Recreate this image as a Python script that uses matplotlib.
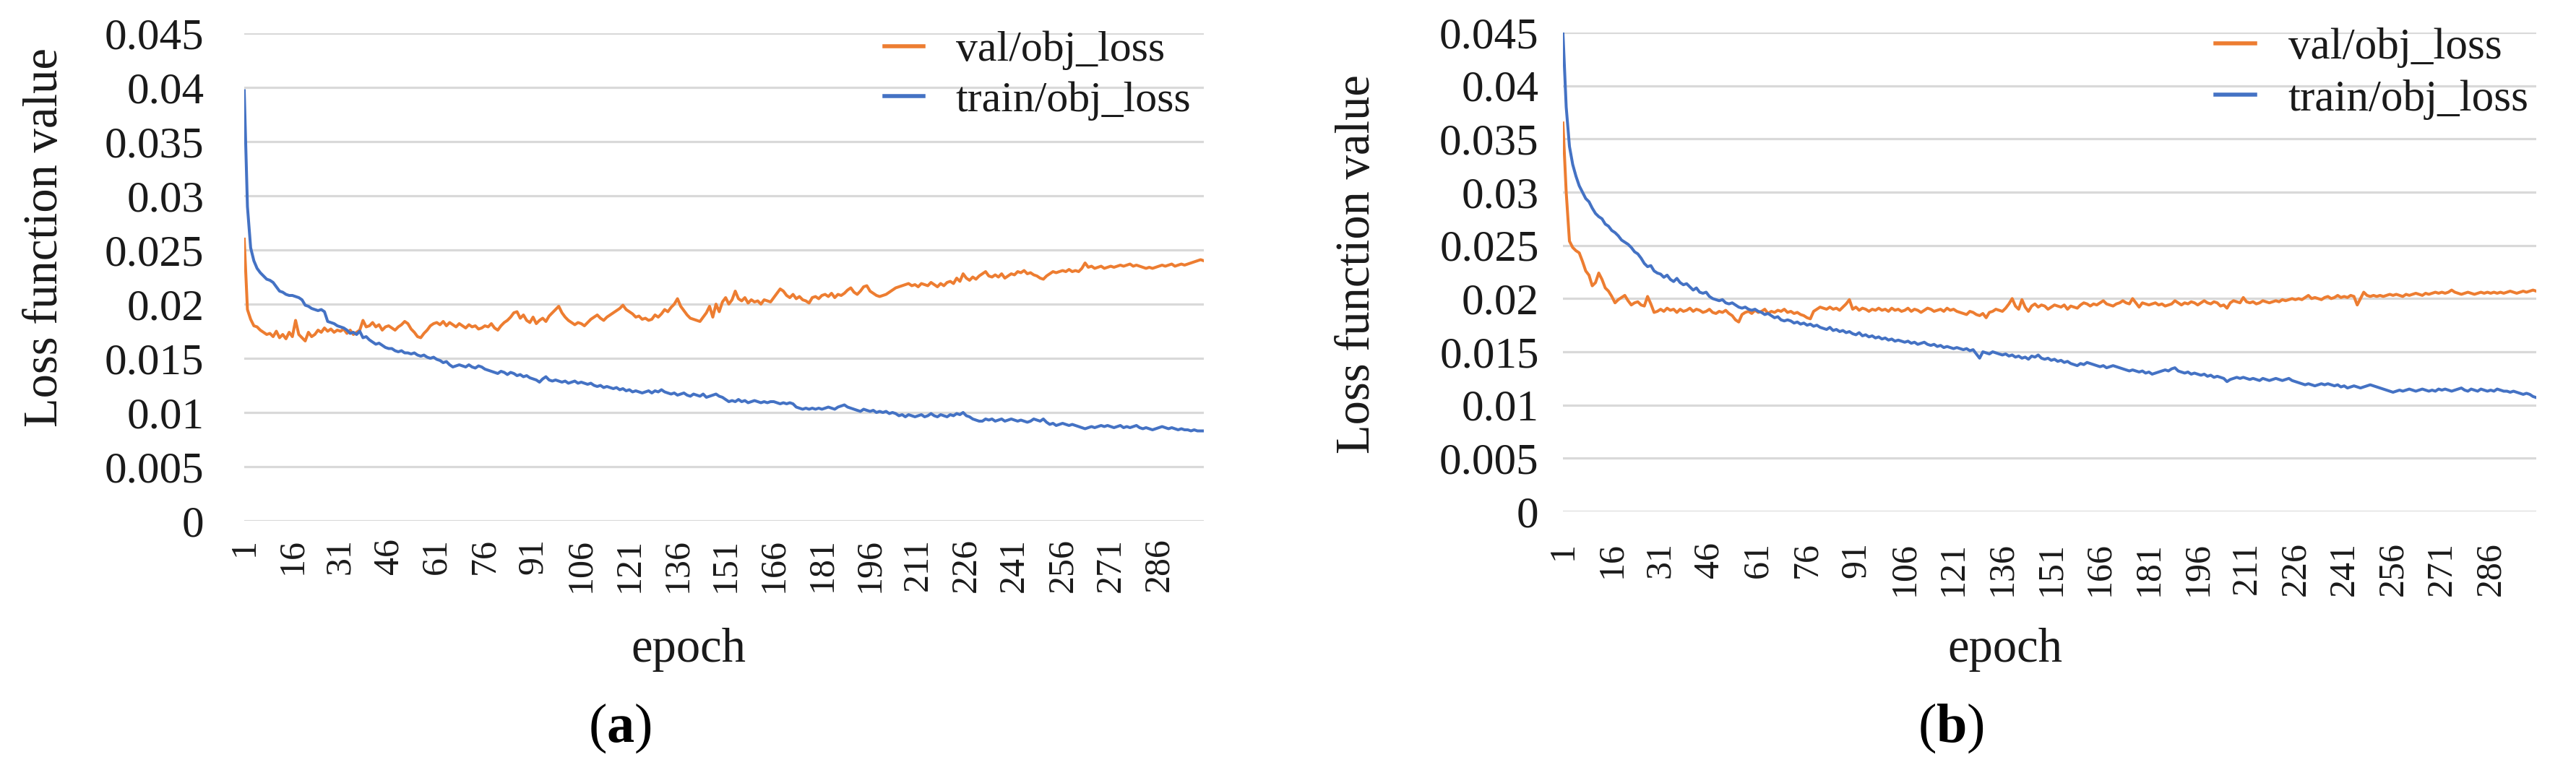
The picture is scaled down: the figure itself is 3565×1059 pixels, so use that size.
import matplotlib
matplotlib.use("Agg")
import matplotlib.pyplot as plt
import numpy as np

plt.rcParams['font.family'] = ['Liberation Serif', 'DejaVu Serif']
plt.rcParams['mathtext.fontset'] = 'custom'
plt.rcParams['mathtext.rm'] = 'Liberation Serif'
plt.rcParams['mathtext.bf'] = 'Liberation Serif:bold'

# ---------------- data (values in units of 1e-5) ----------------
epochs = list(range(1, 301))
tick_labels = [str(e) for e in range(1, 300, 15)]

a_val = [
    2600, 1950, 1860, 1800, 1790, 1760, 1740, 1720, 1730, 1700, 1750, 1690, 1720, 1680, 1740,
    1700, 1850, 1720, 1690, 1660, 1740, 1700, 1720, 1760, 1740, 1780, 1750, 1770, 1740, 1760,
    1750, 1770, 1730, 1760, 1720, 1740, 1760, 1850, 1790, 1800, 1830, 1790, 1810, 1760, 1790,
    1800, 1780, 1760, 1790, 1810, 1840, 1820, 1770, 1740, 1700, 1690, 1730, 1760, 1800, 1820,
    1830, 1810, 1840, 1800, 1830, 1810, 1790, 1820, 1800, 1780, 1810, 1790, 1800, 1770, 1780,
    1800, 1790, 1820, 1780, 1760, 1800, 1830, 1850, 1880, 1920, 1930, 1870, 1900, 1850, 1830,
    1880, 1820, 1850, 1870, 1840, 1890, 1920, 1950, 1980, 1920, 1880, 1850, 1830, 1810, 1830,
    1820, 1800, 1830, 1860, 1880, 1900, 1870, 1850, 1880, 1900, 1920, 1940, 1960, 1990, 1950,
    1930, 1910, 1880, 1890, 1860, 1870, 1850, 1860, 1900, 1880, 1910, 1950, 1930, 1970, 2000,
    2050, 1980, 1940, 1900, 1870, 1860, 1850, 1840, 1880, 1920, 1980, 1880, 2000, 1930, 2020,
    2060, 2000, 2040, 2120, 2050, 2030, 2060, 2010, 2040, 2020, 2030, 2000, 2040, 2030, 2020,
    2060, 2100, 2140, 2120, 2080, 2060, 2090, 2050, 2070, 2040, 2030, 2010, 2060, 2070, 2050,
    2080, 2090, 2070, 2100, 2060, 2090, 2080, 2100, 2130, 2150, 2110, 2090, 2120, 2160, 2170,
    2120, 2100, 2080, 2070, 2080, 2090, 2110, 2130, 2150, 2160, 2170, 2180, 2190, 2170, 2180,
    2160, 2190, 2180, 2170, 2200, 2180, 2160, 2190, 2170, 2200, 2210, 2190, 2240, 2210, 2280,
    2240, 2220, 2250, 2230, 2260, 2280, 2300, 2260, 2250, 2270, 2250, 2280, 2240, 2260, 2280,
    2270, 2300, 2290, 2310, 2280, 2290, 2270, 2260, 2240, 2230, 2260, 2280, 2300, 2290, 2300,
    2310, 2300, 2320, 2300, 2310, 2300, 2330, 2380, 2340, 2350, 2330, 2340, 2350, 2330, 2340,
    2350, 2340, 2350, 2360, 2350, 2360, 2370, 2350, 2360, 2350, 2340, 2330, 2340, 2330, 2340,
    2350, 2360, 2350, 2360, 2370, 2350, 2360, 2370, 2360, 2370, 2380, 2390, 2400, 2410, 2400,
]

a_train = [
    3970, 2900, 2520, 2400, 2330, 2290, 2260, 2230, 2220, 2200, 2160, 2120, 2110, 2090, 2080,
    2080, 2070, 2060, 2040, 1990, 1980, 1960, 1950, 1940, 1950, 1930, 1840, 1830, 1820, 1800,
    1790, 1780, 1760, 1730, 1740, 1720, 1750, 1690, 1700, 1670, 1650, 1630, 1640, 1620, 1600,
    1590, 1590, 1570, 1560, 1570, 1550, 1550, 1540, 1550, 1530, 1520, 1530, 1510, 1500, 1510,
    1490, 1480, 1460, 1470, 1440, 1420, 1430, 1440, 1430, 1420, 1440, 1420, 1410, 1430, 1420,
    1400, 1390, 1380, 1370, 1360, 1380, 1370, 1350, 1370, 1360, 1340, 1350, 1330, 1340, 1320,
    1310, 1300, 1280, 1310, 1330, 1300, 1290, 1300, 1290, 1280, 1290, 1270, 1280, 1290, 1270,
    1280, 1270, 1260, 1270, 1250, 1240, 1250, 1230, 1240, 1230, 1220, 1230, 1210, 1220, 1200,
    1210, 1190, 1200, 1190, 1180, 1190, 1200, 1180, 1200, 1190, 1210, 1190, 1180, 1170, 1180,
    1160, 1170, 1180, 1160, 1150, 1170, 1160, 1150, 1170, 1140, 1150, 1160, 1170, 1150, 1140,
    1120, 1100, 1110, 1100, 1120, 1100, 1110, 1090, 1100, 1110, 1100, 1090, 1100, 1090, 1100,
    1100, 1090, 1080, 1090, 1080, 1090, 1080, 1050, 1040, 1030, 1040, 1030, 1040, 1030, 1040,
    1030, 1040, 1050, 1040, 1030, 1050, 1060, 1070, 1050, 1040, 1030, 1020, 1010, 1030, 1020,
    1010, 1020, 1000, 1010, 1000, 1010, 990, 1000, 990, 970, 980, 960, 980, 970, 960,
    970, 980, 960, 970, 990, 970, 960, 980, 970, 960, 980, 970, 990, 980, 1000,
    970, 960, 940, 930, 920, 920, 940, 930, 940, 920, 930, 940, 920, 930, 940,
    930, 920, 930, 920, 910, 920, 940, 930, 920, 940, 910, 890, 900, 880, 890,
    900, 890, 880, 890, 880, 870, 860, 850, 860, 870, 860, 870, 880, 870, 880,
    870, 860, 870, 880, 860, 870, 860, 870, 880, 860, 850, 860, 850, 840, 850,
    860, 870, 860, 850, 860, 850, 840, 850, 840, 840, 830, 840, 830, 830, 830,
]

b_val = [
    3650, 3000, 2540, 2480, 2450, 2430, 2350, 2260, 2220, 2120, 2150, 2240, 2180, 2100, 2070,
    2020, 1960, 1990, 2010, 2030, 1980, 1940, 1960, 1970, 1940, 1930, 2020, 1950, 1870, 1880,
    1900, 1880, 1910, 1890, 1900, 1870, 1900, 1880, 1890, 1910, 1880, 1900, 1890, 1870, 1880,
    1900, 1870, 1860, 1880, 1870, 1890, 1860, 1840, 1800, 1780, 1850, 1870, 1880, 1860, 1890,
    1870, 1880, 1900, 1860, 1880, 1870, 1890, 1880, 1900, 1870, 1880, 1860, 1870, 1850, 1840,
    1820, 1810, 1880, 1900, 1920, 1910, 1900, 1920, 1900, 1910, 1890, 1920, 1950, 1990, 1900,
    1920, 1890, 1910, 1900, 1880, 1900, 1890, 1910, 1890, 1900, 1880, 1910, 1890, 1900, 1880,
    1890, 1910, 1880, 1900, 1890, 1870, 1890, 1910, 1900, 1880, 1890, 1900, 1880, 1910, 1890,
    1900, 1880, 1870, 1860, 1850, 1880, 1870, 1850, 1840, 1860, 1820, 1870, 1880, 1900, 1890,
    1880, 1910, 1950, 2000, 1930, 1900, 1990, 1920, 1880, 1930, 1950, 1920, 1940, 1930, 1900,
    1920, 1940, 1930, 1920, 1940, 1900, 1930, 1920, 1910, 1940, 1960, 1950, 1930, 1950, 1940,
    1960, 1980, 1950, 1940, 1930, 1950, 1960, 1980, 1960, 1950, 2000, 1960, 1920, 1960, 1950,
    1940, 1950, 1960, 1940, 1950, 1930, 1940, 1950, 1980, 1960, 1940, 1960, 1950, 1970, 1960,
    1940, 1960, 1980, 1960, 1950, 1970, 1960, 1930, 1940, 1910, 1960, 1980, 1970, 1960, 2010,
    1970, 1960, 1970, 1950, 1960, 1980, 1970, 1960, 1970, 1980, 1970, 1990, 1980, 1990, 2000,
    1990, 2000, 1990, 2010, 2030, 2000, 2010, 2000, 1990, 2010, 2020, 2000, 2010, 2030, 2010,
    2020, 2010, 2030, 2020, 1940, 2000, 2060, 2030, 2020, 2030, 2020, 2030, 2020, 2030, 2040,
    2030, 2040, 2030, 2020, 2040, 2030, 2040, 2050, 2040, 2030, 2050, 2040, 2050, 2060, 2050,
    2060, 2050, 2060, 2080, 2060, 2050, 2040, 2050, 2060, 2050, 2040, 2050, 2060, 2050, 2060,
    2050, 2060, 2050, 2060, 2050, 2060, 2070, 2060, 2050, 2060, 2070, 2060, 2070, 2080, 2070,
]

b_train = [
    4500, 3800, 3430, 3260, 3150, 3060, 3000, 2940, 2910, 2850, 2800, 2770, 2750, 2700, 2680,
    2640, 2620, 2590, 2550, 2530, 2510, 2480, 2440, 2420, 2380, 2330, 2300, 2310, 2260, 2240,
    2230, 2200, 2220, 2180, 2160, 2190, 2150, 2130, 2140, 2110, 2080, 2100, 2060, 2050, 2060,
    2020, 2000, 1990, 1980, 1990, 1960, 1950, 1960, 1940, 1920, 1910, 1920, 1900, 1890, 1900,
    1880, 1870, 1850, 1860, 1840, 1820, 1830, 1800, 1790, 1800, 1790, 1770, 1780, 1760, 1770,
    1750, 1760, 1740, 1750, 1730, 1720, 1710, 1730, 1700, 1710, 1690, 1700, 1680, 1690, 1670,
    1660, 1680, 1650, 1660, 1640, 1650, 1630, 1640, 1620, 1630, 1610, 1620, 1600, 1610, 1600,
    1590, 1600, 1580, 1590, 1570, 1580, 1590, 1570, 1560, 1570, 1550, 1560, 1540, 1550, 1540,
    1530, 1540, 1530, 1520, 1530, 1510, 1520, 1480, 1440, 1500, 1490, 1480, 1500, 1490, 1480,
    1470, 1480, 1460, 1470, 1450, 1460, 1440, 1450, 1430, 1460, 1450, 1470, 1440, 1430, 1440,
    1420, 1430, 1410, 1420, 1400, 1410, 1390, 1380, 1370, 1390, 1380, 1400, 1390, 1380, 1370,
    1360, 1370, 1350, 1360, 1370, 1360, 1350, 1340, 1330, 1320, 1330, 1320, 1310, 1320, 1300,
    1310, 1290, 1300, 1310, 1320, 1330, 1320, 1340, 1350, 1320, 1310, 1300, 1310, 1290, 1300,
    1290, 1280, 1290, 1270, 1280, 1260, 1270, 1260, 1250, 1220, 1240, 1250, 1260, 1250, 1260,
    1250, 1240, 1250, 1240, 1230, 1250, 1240, 1230, 1240, 1250, 1240, 1230, 1240, 1250, 1230,
    1220, 1210, 1200, 1190, 1200, 1190, 1180, 1190, 1200, 1190, 1200, 1190, 1180, 1190, 1170,
    1180, 1160, 1170, 1180, 1170, 1160, 1170, 1180, 1190, 1180, 1170, 1160, 1150, 1140, 1130,
    1120, 1130, 1140, 1130, 1140, 1150, 1140, 1130, 1140, 1150, 1140, 1130, 1140, 1130, 1150,
    1140, 1150, 1140, 1130, 1140, 1150, 1160, 1140, 1130, 1150, 1140, 1130, 1150, 1140, 1130,
    1140, 1130, 1150, 1140, 1130, 1130, 1120, 1130, 1120, 1110, 1100, 1110, 1100, 1080, 1070,
]

y_ticks = [0, 0.005, 0.01, 0.015, 0.02, 0.025, 0.03, 0.035, 0.04, 0.045]
y_tick_labels = ["0", "0.005", "0.01", "0.015", "0.02", "0.025", "0.03", "0.035", "0.04", "0.045"]

ORANGE = '#ED7D31'
BLUE = '#4472C4'
GRID = '#D9D9D9'
TXT = '#1a1a1a'

W, H = 3565, 1059
fig = plt.figure(figsize=(W / 100, H / 100), dpi=100)


def px_axes(x0, x1, ytop, ybot):
    return fig.add_axes([x0 / W, 1 - ybot / H, (x1 - x0) / W, (ybot - ytop) / H])


def panel(ax, val, train, ypad, xpad, legend_anchor, legend_fs):
    sc = 1e-5
    ax.plot(epochs, [v * sc for v in val], color=ORANGE, lw=2.9, label='val/obj_loss')
    ax.plot(epochs, [v * sc for v in train], color=BLUE, lw=2.9, label='train/obj_loss')
    ax.set_xlim(1, 300)
    ax.set_ylim(0, 0.045)
    ax.set_yticks(y_ticks)
    ax.set_yticklabels(y_tick_labels)
    ax.set_xticks([int(t) for t in tick_labels])
    ax.set_xticklabels(tick_labels, rotation=90)
    for s in ax.spines.values():
        s.set_visible(False)
    ax.yaxis.grid(True, color=GRID, lw=2.3)
    ax.set_axisbelow(True)
    ax.tick_params(axis='both', length=0, colors=TXT)
    ax.tick_params(axis='y', labelsize=44, pad=ypad)
    ax.tick_params(axis='x', labelsize=36, pad=xpad)
    leg = ax.legend(loc='upper left', bbox_to_anchor=legend_anchor, frameon=False,
                    fontsize=legend_fs, handlelength=0.9, handletextpad=0.75,
                    labelspacing=0.25, borderaxespad=0, borderpad=0)
    for line in leg.get_lines():
        line.set_linewidth(4)
    for t in leg.get_texts():
        t.set_color(TXT)


ax1 = px_axes(338, 1666, 46, 721)
panel(ax1, a_val, a_train, 40, 17, ((1224 - 338) / 1328, 1.005), 43)

ax2 = px_axes(2163, 3510, 45, 708)
panel(ax2, b_val, b_train, 24, 30, ((3066 - 2163) / 1347, 1.01), 44)

# axis titles
fig.text(63 / W, 1 - 329 / H, 'Loss function value', rotation=90, ha='center', va='center',
         fontsize=48, color=TXT)
fig.text(1878 / W, 1 - 366 / H, 'Loss function value', rotation=90, ha='center', va='center',
         fontsize=48, color=TXT)
fig.text(953 / W, 1 - 900 / H, 'epoch', ha='center', va='center', fontsize=48, color=TXT)
fig.text(2775 / W, 1 - 900 / H, 'epoch', ha='center', va='center', fontsize=48, color=TXT)

fig.text(858 / W, 1 - 1008 / H, r'$\mathrm{(}\mathbf{a}\mathrm{)}$', ha='center', va='center',
         fontsize=55, color='black')
fig.text(2700 / W, 1 - 1008 / H, r'$\mathrm{(}\mathbf{b}\mathrm{)}$', ha='center', va='center',
         fontsize=55, color='black')

fig.savefig('out.png', dpi=100, facecolor='white')
